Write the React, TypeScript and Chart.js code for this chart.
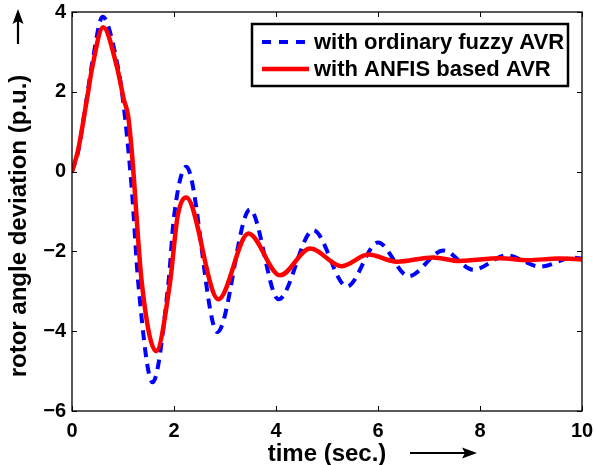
import React, { useEffect, useRef } from 'react';
import { Chart, registerables } from 'chart.js';
Chart.register(...registerables);

// ---- data ----
const fuzzyT = [0, 0.12, 0.29, 0.40, 0.60, 0.88, 1.00, 1.17, 1.30, 1.58, 1.89, 2.00, 2.24, 2.85, 3.49, 4.05, 4.73, 5.39, 6.00, 6.60, 7.28, 7.87, 8.52, 9.18, 9.83, 10];
const fuzzyY = [0, 0.50, 1.85, 2.75, 3.88, 2.75, 1.79, -0.40, -2.80, -5.28, -2.80, -1.13, 0.12, -4.02, -0.95, -3.20, -1.47, -2.88, -1.78, -2.62, -1.98, -2.46, -2.10, -2.38, -2.16, -2.18];
const anfisT = [0, 0.12, 0.29, 0.40, 0.61, 0.88, 1.02, 1.10, 1.17, 1.37, 1.65, 1.92, 2.07, 2.24, 2.87, 3.46, 4.08, 4.67, 5.29, 5.81, 6.37, 7.08, 7.60, 8.39, 8.95, 9.55, 10];
const anfisY = [0, 0.54, 1.79, 2.63, 3.62, 2.63, 1.79, 1.40, 0.54, -2.80, -4.50, -2.80, -1.13, -0.65, -3.20, -1.55, -2.60, -1.93, -2.37, -2.08, -2.26, -2.15, -2.24, -2.17, -2.22, -2.18, -2.20];
const xTicks = [0, 2, 4, 6, 8, 10];
const yTicks = [-6, -4, -2, 0, 2, 4];
const seriesNames = ['with ordinary fuzzy AVR', 'with ANFIS based AVR'];
const xTitle = 'time (sec.)';
const yTitle = 'rotor angle deviation (p.u.)';

const FONT = '"Liberation Sans", Arial, Helvetica, sans-serif';
const BLUE = '#0000ff';
const RED = '#ff0000';

const decor = {
  id: 'decor',
  afterDraw(chart: any) {
    const ctx = chart.ctx as CanvasRenderingContext2D;
    const { left, right, top, bottom } = chart.chartArea;
    const xs = chart.scales.x;
    const ys = chart.scales.y;
    ctx.save();
    // frame
    ctx.strokeStyle = '#000';
    ctx.lineWidth = 1.3;
    ctx.strokeRect(left, top, right - left, bottom - top);
    // inward ticks
    const tl = 5;
    ctx.lineWidth = 1;
    ctx.beginPath();
    xTicks.forEach((v) => {
      const px = Math.round(xs.getPixelForValue(v)) + 0.5;
      ctx.moveTo(px, bottom); ctx.lineTo(px, bottom - tl);
      ctx.moveTo(px, top); ctx.lineTo(px, top + tl);
    });
    yTicks.forEach((v) => {
      const py = Math.round(ys.getPixelForValue(v)) + 0.5;
      ctx.moveTo(left, py); ctx.lineTo(left + tl, py);
      ctx.moveTo(right, py); ctx.lineTo(right - tl, py);
    });
    ctx.stroke();

    // x title + arrow
    ctx.fillStyle = '#000';
    ctx.font = `bold 24px ${FONT}`;
    ctx.textAlign = 'center';
    ctx.textBaseline = 'alphabetic';
    ctx.fillText(xTitle, (left + right) / 2, 461);
    ctx.lineWidth = 2.2;
    ctx.beginPath();
    ctx.moveTo(410, 453); ctx.lineTo(466, 453);
    ctx.stroke();
    ctx.beginPath();
    ctx.moveTo(477, 453); ctx.lineTo(462, 447.5); ctx.lineTo(465, 453); ctx.lineTo(462, 458.5); ctx.closePath();
    ctx.fill();

    // y title + arrow
    ctx.save();
    ctx.translate(26, 226);
    ctx.rotate(-Math.PI / 2);
    ctx.fillText(yTitle, 0, 0);
    ctx.restore();
    ctx.beginPath();
    ctx.moveTo(18, 44); ctx.lineTo(18, 20);
    ctx.stroke();
    ctx.beginPath();
    ctx.moveTo(18, 9); ctx.lineTo(12.5, 24); ctx.lineTo(18, 21); ctx.lineTo(23.5, 24); ctx.closePath();
    ctx.fill();

    // legend
    const lx = 252, ly = 24, lw = 316, lh = 62;
    ctx.fillStyle = '#fff';
    ctx.fillRect(lx, ly, lw, lh);
    ctx.strokeStyle = '#000';
    ctx.lineWidth = 2.5;
    ctx.strokeRect(lx, ly, lw, lh);
    const rows = [
      { y: 42, color: BLUE, dash: [9, 8], w: 4 },
      { y: 69, color: RED, dash: [], w: 4.5 },
    ];
    rows.forEach((r, i) => {
      ctx.strokeStyle = r.color;
      ctx.lineWidth = r.w;
      ctx.setLineDash(r.dash);
      ctx.beginPath();
      ctx.moveTo(262, r.y); ctx.lineTo(309, r.y);
      ctx.stroke();
      ctx.setLineDash([]);
      ctx.fillStyle = '#000';
      ctx.font = `bold 22px ${FONT}`;
      ctx.textAlign = 'left';
      ctx.textBaseline = 'middle';
      ctx.fillText(seriesNames[i], 314, r.y + 1);
    });
    ctx.restore();
  },
};

const fmt = (v: number) => (v < 0 ? '\u2212' + Math.abs(v) : String(v));

export default function App() {
  const ref = useRef<HTMLCanvasElement>(null);
  useEffect(() => {
    if (!ref.current) return;
    const chart = new Chart(ref.current, {
      type: 'line',
      data: {
        datasets: [
          {
            label: seriesNames[0],
            data: fuzzyT.map((t, i) => ({ x: t, y: fuzzyY[i] })),
            borderColor: BLUE,
            borderWidth: 4,
            borderDash: [10, 7],
            borderCapStyle: 'butt',
            pointRadius: 0,
            cubicInterpolationMode: 'monotone',
            fill: false,
            order: 2,
          },
          {
            label: seriesNames[1],
            data: anfisT.map((t, i) => ({ x: t, y: anfisY[i] })),
            borderColor: RED,
            borderWidth: 4.5,
            pointRadius: 0,
            cubicInterpolationMode: 'monotone',
            fill: false,
            order: 1,
          },
        ],
      },
      options: {
        animation: false,
        responsive: true,
        maintainAspectRatio: false,
        layout: { padding: { top: 12, right: 12, left: 0, bottom: 0 } },
        plugins: { legend: { display: false }, tooltip: { enabled: false } },
        scales: {
          x: {
            type: 'linear',
            min: 0,
            max: 10,
            afterBuildTicks: (s: any) => { s.ticks = xTicks.map((v) => ({ value: v })); },
            afterFit: (s: any) => { s.height = 54; s.paddingLeft = 0; s.paddingRight = 0; },
            grid: { display: false, drawTicks: false },
            border: { display: false },
            ticks: {
              padding: 8,
              color: '#000',
              font: { family: FONT, size: 20, weight: 'bold' },
              callback: (v: any) => fmt(Number(v)),
              maxRotation: 0,
            },
          },
          y: {
            type: 'linear',
            min: -6,
            max: 4,
            afterBuildTicks: (s: any) => { s.ticks = yTicks.map((v) => ({ value: v })); },
            afterFit: (s: any) => { s.width = 72; s.paddingTop = 0; s.paddingBottom = 0; },
            grid: { display: false, drawTicks: false },
            border: { display: false },
            ticks: {
              padding: 6,
              color: '#000',
              font: { family: FONT, size: 20, weight: 'bold' },
              callback: (v: any) => fmt(Number(v)),
            },
          },
        },
      },
      plugins: [decor],
    } as any);
    return () => chart.destroy();
  }, []);
  return (
    <div style={{ position: 'fixed', left: 0, top: 0, width: 594, height: 465, background: '#fff' }}>
      <canvas ref={ref} />
    </div>
  );
}
